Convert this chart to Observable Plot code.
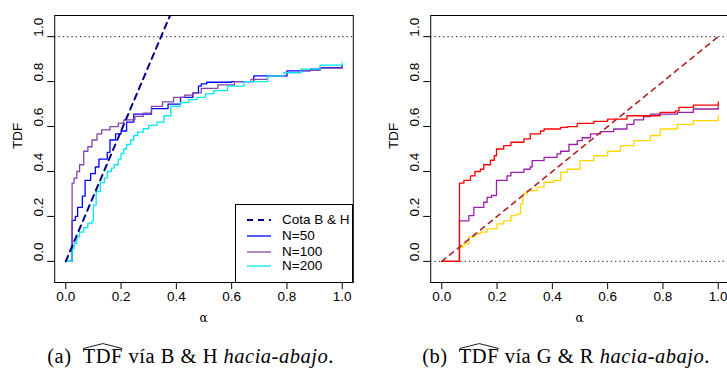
<!DOCTYPE html>
<html>
<head>
<meta charset="utf-8">
<script src="https://cdn.jsdelivr.net/npm/d3@7"></script>
<script src="https://cdn.jsdelivr.net/npm/@observablehq/plot@0.6"></script>
<style>
  html, body { margin: 0; padding: 0; background: #fff; overflow: hidden; }
  #wrap { position: relative; width: 727px; height: 370px; overflow: hidden; font-family: "Liberation Sans", Arial, sans-serif; }
  .panel { position: absolute; top: 0; width: 400px; }
  .panel svg { max-width: none !important; }
  .legend { position: absolute; border: 1px solid #000; box-sizing: border-box; background: #fff; }
  .lrow { position: absolute; left: 0; height: 16px; font-size: 13.5px; line-height: 16px; color: #000; }
  .lrow svg { position: absolute; left: 11px; top: 0; }
  .lrow span { position: absolute; left: 46px; top: 0; white-space: nowrap; }
  .cap { position: absolute; top: 344px; font-family: "Liberation Serif", "DejaVu Serif", serif; font-size: 20.5px; line-height: 24px; white-space: nowrap; color: #000; transform: translateX(-50%); letter-spacing: 0.5px; }
  .hat { position: relative; display: inline-block; }
  .hat svg { position: absolute; left: 0; top: -1px; width: 100%; height: 6px; overflow: visible; }
  .alpha { position: absolute; top: 311px; font-family: "DejaVu Serif", serif; font-size: 12px; transform: translateX(-50%); }
</style>
</head>
<body>
<div id="wrap">
  <div id="left" class="panel" style="left:0px"></div>
  <div id="right" class="panel" style="left:360px"></div>
</div>
<script>
// ---- data ----
const xTicks = [0, 0.2, 0.4, 0.6, 0.8, 1.0];
const yTicks = [0, 0.2, 0.4, 0.6, 0.8, 1.0];

// Panel (a): B & H
const cotaBH_alpha = [0, 0.4];
const cotaBH_tdf = [0, 1.16];
const n50_alpha = [0, 0.023, 0.035, 0.043, 0.06, 0.07, 0.09, 0.107, 0.12, 0.15, 0.16, 0.18, 0.20, 0.22, 0.246, 0.31, 0.37, 0.415, 0.46, 0.48, 0.49, 0.51, 0.6, 0.68, 0.80, 0.885, 0.92, 1.0];
const n50_tdf   = [0, 0.182, 0.20, 0.24, 0.29, 0.36, 0.39, 0.42, 0.455, 0.485, 0.54, 0.567, 0.58, 0.62, 0.655, 0.68, 0.70, 0.73, 0.75, 0.78, 0.79, 0.797, 0.80, 0.825, 0.848, 0.855, 0.862, 0.873];
const n100_alpha = [0, 0.023, 0.03, 0.04, 0.05, 0.065, 0.08, 0.095, 0.113, 0.13, 0.16, 0.19, 0.21, 0.25, 0.28, 0.31, 0.35, 0.39, 0.43, 0.46, 0.49, 0.55, 0.61, 0.67, 0.73, 0.8, 0.85, 0.92, 1.0];
const n100_tdf   = [0, 0.348, 0.37, 0.40, 0.43, 0.49, 0.51, 0.54, 0.567, 0.585, 0.60, 0.615, 0.63, 0.645, 0.66, 0.69, 0.71, 0.73, 0.74, 0.75, 0.77, 0.785, 0.80, 0.81, 0.825, 0.84, 0.85, 0.86, 0.873];
const n200_alpha = [0, 0.023, 0.03, 0.04, 0.05, 0.065, 0.08, 0.095, 0.1, 0.11, 0.125, 0.14, 0.15, 0.165, 0.175, 0.19, 0.2, 0.21, 0.22, 0.235, 0.246, 0.26, 0.28, 0.3, 0.33, 0.355, 0.38, 0.415, 0.445, 0.475, 0.505, 0.535, 0.585, 0.645, 0.73, 0.79, 0.85, 0.92, 1.0];
const n200_tdf   = [0, 0.056, 0.08, 0.108, 0.13, 0.15, 0.17, 0.18, 0.25, 0.31, 0.35, 0.37, 0.40, 0.415, 0.43, 0.455, 0.48, 0.50, 0.52, 0.54, 0.56, 0.575, 0.59, 0.605, 0.62, 0.648, 0.69, 0.707, 0.72, 0.73, 0.745, 0.76, 0.78, 0.80, 0.825, 0.84, 0.855, 0.873, 0.882];

// Panel (b): G & R
const cotaGR_alpha = [0, 1];
const cotaGR_tdf = [0, 1];
const red_alpha = [0, 0.064, 0.08, 0.104, 0.12, 0.14, 0.152, 0.176, 0.19, 0.198, 0.224, 0.25, 0.297, 0.32, 0.357, 0.37, 0.43, 0.454, 0.49, 0.55, 0.6, 0.67, 0.79, 0.845, 0.858, 0.91, 1.0];
const red_tdf   = [0, 0.348, 0.36, 0.38, 0.40, 0.41, 0.43, 0.45, 0.47, 0.50, 0.515, 0.53, 0.545, 0.567, 0.58, 0.589, 0.596, 0.60, 0.614, 0.623, 0.633, 0.648, 0.663, 0.67, 0.685, 0.695, 0.71];
const pur_alpha = [0, 0.064, 0.098, 0.116, 0.152, 0.164, 0.18, 0.198, 0.236, 0.25, 0.297, 0.32, 0.327, 0.37, 0.417, 0.43, 0.46, 0.49, 0.508, 0.538, 0.574, 0.622, 0.67, 0.695, 0.73, 0.755, 0.852, 0.91, 1.0];
const pur_tdf   = [0, 0.18, 0.204, 0.24, 0.263, 0.285, 0.293, 0.36, 0.38, 0.396, 0.41, 0.42, 0.448, 0.463, 0.478, 0.49, 0.52, 0.537, 0.55, 0.567, 0.577, 0.589, 0.61, 0.63, 0.644, 0.655, 0.663, 0.678, 0.692];
const gold_alpha = [0, 0.064, 0.08, 0.098, 0.12, 0.14, 0.164, 0.2, 0.224, 0.25, 0.27, 0.285, 0.293, 0.31, 0.345, 0.37, 0.405, 0.43, 0.454, 0.5, 0.55, 0.6, 0.646, 0.695, 0.755, 0.79, 0.852, 0.91, 1.0];
const gold_tdf   = [0, 0.064, 0.078, 0.108, 0.123, 0.13, 0.145, 0.167, 0.18, 0.204, 0.21, 0.256, 0.30, 0.315, 0.33, 0.352, 0.36, 0.396, 0.41, 0.448, 0.47, 0.49, 0.515, 0.537, 0.56, 0.589, 0.61, 0.626, 0.648];

const legendLabels = ["Cota B & H", "N=50", "N=100", "N=200"];

// ---- helpers ----
const zip = (a, t) => a.map((v, i) => ({a: v, t: t[i]}));
const fmt = d => d.toFixed(1);

function panel({width, marginLeft, marginRight, marks}) {
  return Plot.plot({
    width, height: 330,
    marginLeft, marginRight, marginTop: 15, marginBottom: 48,
    x: {domain: [-0.04, 1.04]},
    y: {domain: [-0.094, 1.094]},
    style: {fontFamily: "'Liberation Sans', Arial, sans-serif", fontSize: "13.5px", color: "#000", background: "transparent", overflow: "visible", maxWidth: "none"},
    marks: [
      Plot.axisX({ticks: xTicks, tickFormat: fmt, tickSize: 7, tickPadding: 2, label: null}),
      Plot.axisY({ticks: yTicks, tickFormat: () => "", tickSize: 7, label: null}),
      Plot.text(yTicks, {y: d => d, text: fmt, frameAnchor: "left", dx: -16.5, rotate: -90}),
      Plot.text(["TDF"], {frameAnchor: "left", dx: -37, rotate: -90}),
      ...marks,
      Plot.frame({stroke: "#000", strokeWidth: 1})
    ]
  });
}

const dotted = {stroke: "#444", strokeWidth: 1.3, strokeDasharray: "1.3,3"};
const lw = 1.3;

const left = panel({
  width: 360, marginLeft: 54.2, marginRight: 7.2,
  marks: [
    Plot.ruleY([1], dotted),
    Plot.line(zip(n50_alpha, n50_tdf), {x: "a", y: "t", curve: "step-after", stroke: "#0000FF", strokeWidth: lw}),
    Plot.line(zip(n100_alpha, n100_tdf), {x: "a", y: "t", curve: "step-after", stroke: "#8445A8", strokeWidth: lw}),
    Plot.line(zip(n200_alpha, n200_tdf), {x: "a", y: "t", curve: "step-after", stroke: "#00E8F0", strokeWidth: lw}),
    Plot.line(zip(cotaBH_alpha, cotaBH_tdf), {x: "a", y: "t", stroke: "#00008B", strokeWidth: 2, strokeDasharray: "6,5", clip: true})
  ]
});
document.getElementById("left").appendChild(left);

const right = panel({
  width: 377, marginLeft: 70.2, marginRight: 8.2,
  marks: [
    Plot.ruleY([0, 1], dotted),
    Plot.line(zip(gold_alpha, gold_tdf), {x: "a", y: "t", curve: "step-after", stroke: "#FFD700", strokeWidth: lw}),
    Plot.line(zip(pur_alpha, pur_tdf), {x: "a", y: "t", curve: "step-after", stroke: "#9A1FAA", strokeWidth: lw}),
    Plot.line(zip(red_alpha, red_tdf), {x: "a", y: "t", curve: "step-after", stroke: "#FF0000", strokeWidth: lw}),
    Plot.line(zip(cotaGR_alpha, cotaGR_tdf), {x: "a", y: "t", stroke: "#B22222", strokeWidth: 1.6, strokeDasharray: "5,5"})
  ]
});
document.getElementById("right").appendChild(right);

// ---- legend (panel a) ----
const wrap = document.getElementById("wrap");
const lg = document.createElement("div");
lg.className = "legend";
Object.assign(lg.style, {left: "235px", top: "204px", width: "118px", height: "79px"});
const legendStyles = [
  {stroke: "#00008B", w: 2, dash: "6,5"},
  {stroke: "#0000FF", w: 1.3, dash: null},
  {stroke: "#A27FC2", w: 1.8, dash: null},
  {stroke: "#00E8F0", w: 1.3, dash: null}
];
const rowTops = [7, 23, 38.5, 53];
legendLabels.forEach((lab, i) => {
  const r = document.createElement("div");
  r.className = "lrow";
  r.style.top = rowTops[i] + "px";
  const s = legendStyles[i];
  r.innerHTML = `<svg width="24" height="16"><line x1="0" x2="24" y1="8" y2="8" stroke="${s.stroke}" stroke-width="${s.w}" ${s.dash ? `stroke-dasharray="${s.dash}"` : ""}/></svg><span>${lab}</span>`;
  lg.appendChild(r);
});
wrap.appendChild(lg);

// ---- axis titles & captions ----
function addAlpha(x) {
  const d = document.createElement("div");
  d.className = "alpha"; d.style.left = x + "px"; d.textContent = "α";
  wrap.appendChild(d);
}
addAlpha(203.5); addAlpha(579.5);

function addCaption(x, letter, meth) {
  const d = document.createElement("div");
  d.className = "cap"; d.style.left = x + "px";
  d.innerHTML = `(${letter})&nbsp; <span class="hat"><svg viewBox="0 0 40 6" preserveAspectRatio="none"><polyline points="0.5,5.5 20,0.6 39.5,5.5" fill="none" stroke="#000" stroke-width="0.9" vector-effect="non-scaling-stroke"/></svg>TDF</span> vía ${meth} <i>hacia-abajo</i>.`;
  wrap.appendChild(d);
}
addCaption(190.5, "a", "B &amp; H");
addCaption(566, "b", "G &amp; R");
</script>
</body>
</html>
